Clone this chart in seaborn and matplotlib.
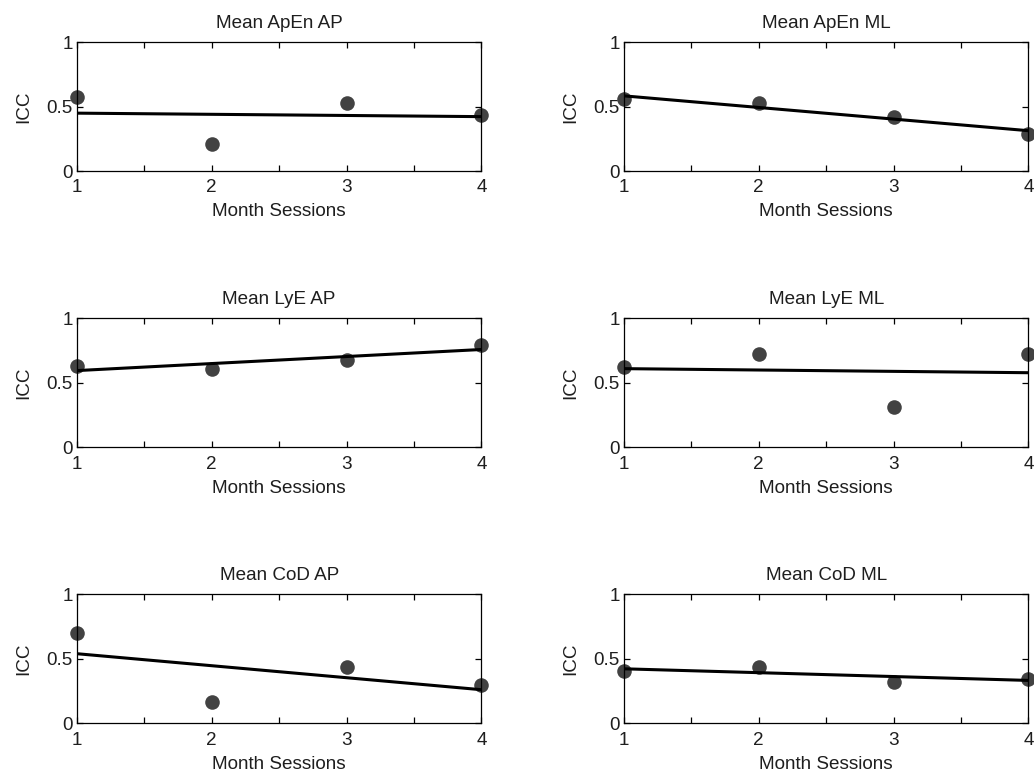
import numpy as np
import pandas as pd
import matplotlib
matplotlib.use("Agg")
import matplotlib.pyplot as plt
import seaborn as sns

# ---- data ----
sessions = [1, 2, 3, 4]
titles = ["Mean ApEn AP", "Mean ApEn ML",
          "Mean LyE AP", "Mean LyE ML",
          "Mean CoD AP", "Mean CoD ML"]
apen_ap = [0.57, 0.21, 0.525, 0.435]
apen_ml = [0.555, 0.525, 0.42, 0.29]
lye_ap = [0.63, 0.61, 0.675, 0.79]
lye_ml = [0.62, 0.72, 0.315, 0.72]
cod_ap = [0.70, 0.165, 0.435, 0.30]
cod_ml = [0.405, 0.44, 0.32, 0.345]
x_ticks = [1, 1.5, 2, 2.5, 3, 3.5, 4]
x_tick_labels = ["1", "", "2", "", "3", "", "4"]
y_ticks = [0, 0.5, 1]
y_tick_labels = ["0", "0.5", "1"]
series = [apen_ap, apen_ml, lye_ap, lye_ml, cod_ap, cod_ml]

sns.set_theme(style="white", rc={"axes.edgecolor": "black", "axes.linewidth": 0.9})
plt.rcParams["font.family"] = ["Liberation Sans", "DejaVu Sans"]

fig = plt.figure(figsize=(10.34, 7.78), dpi=100)
lefts = [0.0745, 0.6035]
bottoms = [0.7802, 0.4251, 0.0703]
w, h = 0.391, 0.1658
fs = 13.6
txt = "#1e1e1e"

for i, (title, vals) in enumerate(zip(titles, series)):
    r, c = divmod(i, 2)
    ax = fig.add_axes([lefts[c], bottoms[r], w, h])
    df = pd.DataFrame({"Month Sessions": sessions, "ICC": vals})
    sns.regplot(data=df, x="Month Sessions", y="ICC", ax=ax, ci=None, truncate=True,
                scatter_kws=dict(s=110, color="#424242", clip_on=False, linewidths=0, alpha=1),
                line_kws=dict(color="black", lw=2.2))
    ax.set_xlim(1, 4)
    ax.set_ylim(0, 1)
    ax.set_xticks(x_ticks)
    ax.set_xticklabels(x_tick_labels)
    ax.set_yticks(y_ticks)
    ax.set_yticklabels(y_tick_labels)
    ax.tick_params(direction="in", top=True, right=True, bottom=True, left=True,
                   length=4, width=0.9, color="black", labelsize=fs, labelcolor=txt)
    ax.tick_params(axis="x", pad=6)
    ax.tick_params(axis="y", pad=3)
    ax.set_title(title, fontsize=fs, color=txt, pad=10)
    ax.set_xlabel("Month Sessions", fontsize=fs, color=txt, labelpad=5)
    ax.set_ylabel("ICC", fontsize=fs, color=txt, labelpad=10)
    ax.set_facecolor("white")
    for sp in ax.spines.values():
        sp.set_color("black")
        sp.set_visible(True)

fig.savefig("out.png", dpi=100, facecolor="white")
